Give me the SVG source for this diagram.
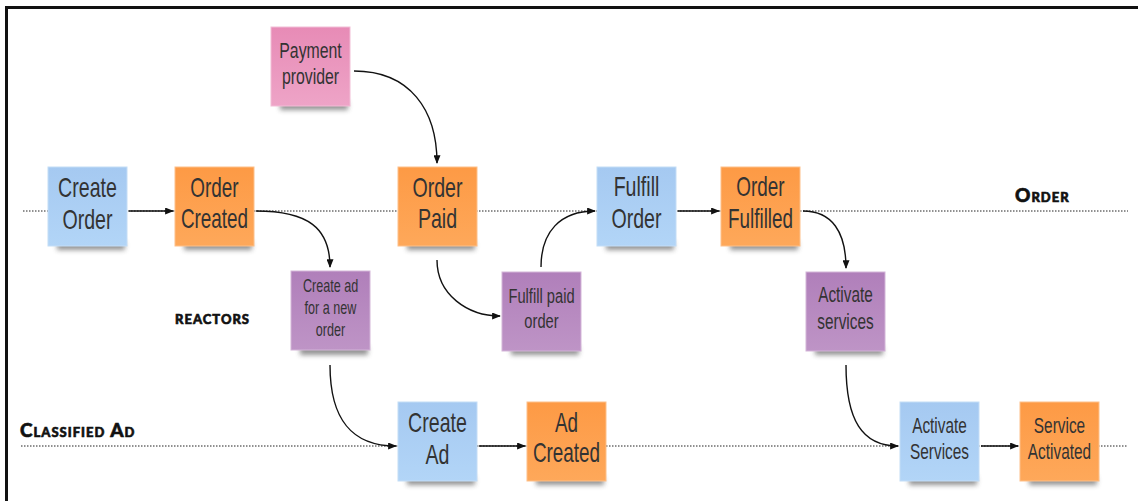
<svg xmlns="http://www.w3.org/2000/svg" width="1138" height="501" viewBox="0 0 1138 501">
  <defs>
    <linearGradient id="gBlue" x1="0" y1="0" x2="0" y2="1">
      <stop offset="0" stop-color="#a5c9f1"/>
      <stop offset="1" stop-color="#b2d5f7"/>
    </linearGradient>
    <linearGradient id="gOrange" x1="0" y1="0" x2="0" y2="1">
      <stop offset="0" stop-color="#fd9a45"/>
      <stop offset="1" stop-color="#fea85a"/>
    </linearGradient>
    <linearGradient id="gPurple" x1="0" y1="0" x2="0" y2="1">
      <stop offset="0" stop-color="#b07fba"/>
      <stop offset="1" stop-color="#be94c6"/>
    </linearGradient>
    <linearGradient id="gPink" x1="0" y1="0" x2="0" y2="1">
      <stop offset="0" stop-color="#e78bb6"/>
      <stop offset="1" stop-color="#eea4c7"/>
    </linearGradient>
    <filter id="soft" x="-20%" y="-100%" width="140%" height="300%">
      <feGaussianBlur stdDeviation="2.6"/>
    </filter>
    <marker id="arrow" viewBox="0 0 10 8" refX="9" refY="4" markerWidth="9" markerHeight="7" markerUnits="userSpaceOnUse" orient="auto">
      <path d="M0,0 L10,4 L0,8 Z" fill="#111"/>
    </marker>
  </defs>
  <style>
    .shadow { fill: #3a3a3a; opacity: 0.55; filter: url(#soft); }
    .blue { fill: url(#gBlue); stroke: #c4ddf6; stroke-width: 1; }
    .orange { fill: url(#gOrange); stroke: #fdc08a; stroke-width: 1; }
    .purple { fill: url(#gPurple); stroke: #d3b5d8; stroke-width: 1; }
    .pink { fill: url(#gPink); stroke: #f2bdd6; stroke-width: 1; }
    .note { font-family: "Liberation Sans", Arial, sans-serif; fill: #333; text-anchor: middle; }
    .lane { font-family: Lato, "DejaVu Sans", sans-serif; font-weight: 900; font-variant: small-caps; fill: #111; stroke: #111; stroke-width: 0.6; letter-spacing: 1px; font-size: 19px; }
    .dots { stroke: #222; stroke-width: 1; stroke-dasharray: 1.5 1.5; fill: none; }
    .link { stroke: #111; stroke-width: 1.4; fill: none; marker-end: url(#arrow); }
  </style>

  <rect x="0" y="0" width="1138" height="501" fill="#ffffff"/>

  <!-- frame -->
  <g id="frame" stroke="#111" fill="none">
    <line x1="5" y1="7.5" x2="1138" y2="7.5" stroke-width="3"/>
    <line x1="6.5" y1="6" x2="6.5" y2="501" stroke-width="3"/>
  </g>

  <!-- swimlanes -->
  <g id="lanes">
    <line class="dots" x1="23" y1="211" x2="1128" y2="211"/>
    <line class="dots" x1="21" y1="446" x2="1128" y2="446"/>
    <text class="lane" x="1015" y="202">Order</text>
    <text class="lane" x="175" y="324">reactors</text>
    <text class="lane" x="20" y="437">Classified Ad</text>
  </g>

  <!-- connectors -->
  <g id="connectors">
    <path class="link" d="M129,211 L173,211"/>
    <path class="link" d="M256,211 C308,211 330,228 330,267"/>
    <path class="link" d="M354,71 C410,71 437,110 437,163"/>
    <path class="link" d="M437,260 C437,295 468,316 500,316"/>
    <path class="link" d="M541,267 C541,232 560,211 595,211"/>
    <path class="link" d="M678,211 L719,211"/>
    <path class="link" d="M803,211 C832,211 846,232 846,268"/>
    <path class="link" d="M330,365 C330,420 352,446 396,446"/>
    <path class="link" d="M479,446 L525,446"/>
    <path class="link" d="M846,365 C846,420 862,446 898,446"/>
    <path class="link" d="M981,446 L1018,446"/>
  </g>

  <!-- sticky notes: narrow lettering via horizontal squeeze -->
  <g id="payment-provider">
    <rect class="shadow" x="280" y="101" width="68" height="9"/>
    <rect class="pink" x="271" y="27" width="79" height="79"/>
    <text class="note" font-size="22" transform="translate(310.5,58) scale(0.72,1)">Payment</text>
    <text class="note" font-size="22" transform="translate(310.5,84) scale(0.72,1)">provider</text>
  </g>

  <g id="create-order">
    <rect class="shadow" x="57" y="241" width="68" height="9"/>
    <rect class="blue" x="48" y="167" width="79" height="79"/>
    <text class="note" font-size="28" transform="translate(87.5,197) scale(0.7,1)">Create</text>
    <text class="note" font-size="28" transform="translate(87.5,229) scale(0.7,1)">Order</text>
  </g>

  <g id="order-created">
    <rect class="shadow" x="184" y="241" width="68" height="9"/>
    <rect class="orange" x="175" y="167" width="79" height="79"/>
    <text class="note" font-size="27" transform="translate(214.5,197) scale(0.7,1)">Order</text>
    <text class="note" font-size="27" transform="translate(214.5,228) scale(0.7,1)">Created</text>
  </g>

  <g id="order-paid">
    <rect class="shadow" x="407" y="241" width="68" height="9"/>
    <rect class="orange" x="398" y="167" width="79" height="79"/>
    <text class="note" font-size="28" transform="translate(437.5,197) scale(0.7,1)">Order</text>
    <text class="note" font-size="28" transform="translate(437.5,228) scale(0.7,1)">Paid</text>
  </g>

  <g id="fulfill-order">
    <rect class="shadow" x="606" y="241" width="68" height="9"/>
    <rect class="blue" x="597" y="167" width="79" height="79"/>
    <text class="note" font-size="28" transform="translate(636.5,196) scale(0.7,1)">Fulfill</text>
    <text class="note" font-size="28" transform="translate(636.5,228) scale(0.7,1)">Order</text>
  </g>

  <g id="order-fulfilled">
    <rect class="shadow" x="730" y="241" width="68" height="9"/>
    <rect class="orange" x="721" y="167" width="79" height="79"/>
    <text class="note" font-size="27" transform="translate(760.5,196) scale(0.7,1)">Order</text>
    <text class="note" font-size="27" transform="translate(760.5,228) scale(0.7,1)">Fulfilled</text>
  </g>

  <g id="create-ad-for-new-order">
    <rect class="shadow" x="300" y="346" width="68" height="9"/>
    <rect class="purple" x="291" y="271" width="79" height="79"/>
    <text class="note" font-size="18" transform="translate(330.5,292) scale(0.7,1)">Create ad</text>
    <text class="note" font-size="18" transform="translate(330.5,314) scale(0.7,1)">for a new</text>
    <text class="note" font-size="18" transform="translate(330.5,336) scale(0.7,1)">order</text>
  </g>

  <g id="fulfill-paid-order">
    <rect class="shadow" x="511" y="346" width="68" height="9"/>
    <rect class="purple" x="502" y="272" width="79" height="79"/>
    <text class="note" font-size="21" transform="translate(541.5,303) scale(0.7,1)">Fulfill paid</text>
    <text class="note" font-size="21" transform="translate(541.5,328) scale(0.7,1)">order</text>
  </g>

  <g id="activate-services-reactor">
    <rect class="shadow" x="815" y="346" width="68" height="9"/>
    <rect class="purple" x="806" y="272" width="79" height="79"/>
    <text class="note" font-size="22" transform="translate(845.5,302) scale(0.7,1)">Activate</text>
    <text class="note" font-size="22" transform="translate(845.5,329) scale(0.7,1)">services</text>
  </g>

  <g id="create-ad">
    <rect class="shadow" x="407" y="476" width="68" height="9"/>
    <rect class="blue" x="398" y="402" width="79" height="79"/>
    <text class="note" font-size="28" transform="translate(437.5,432) scale(0.7,1)">Create</text>
    <text class="note" font-size="28" transform="translate(437.5,464) scale(0.7,1)">Ad</text>
  </g>

  <g id="ad-created">
    <rect class="shadow" x="536" y="476" width="68" height="9"/>
    <rect class="orange" x="527" y="402" width="79" height="79"/>
    <text class="note" font-size="27" transform="translate(566.5,432) scale(0.7,1)">Ad</text>
    <text class="note" font-size="27" transform="translate(566.5,462) scale(0.7,1)">Created</text>
  </g>

  <g id="activate-services">
    <rect class="shadow" x="909" y="476" width="68" height="9"/>
    <rect class="blue" x="900" y="402" width="79" height="79"/>
    <text class="note" font-size="22" transform="translate(939.5,433) scale(0.7,1)">Activate</text>
    <text class="note" font-size="22" transform="translate(939.5,459) scale(0.7,1)">Services</text>
  </g>

  <g id="service-activated">
    <rect class="shadow" x="1029" y="476" width="68" height="9"/>
    <rect class="orange" x="1020" y="402" width="79" height="79"/>
    <text class="note" font-size="22" transform="translate(1059.5,433) scale(0.7,1)">Service</text>
    <text class="note" font-size="22" transform="translate(1059.5,459) scale(0.7,1)">Activated</text>
  </g>
</svg>
